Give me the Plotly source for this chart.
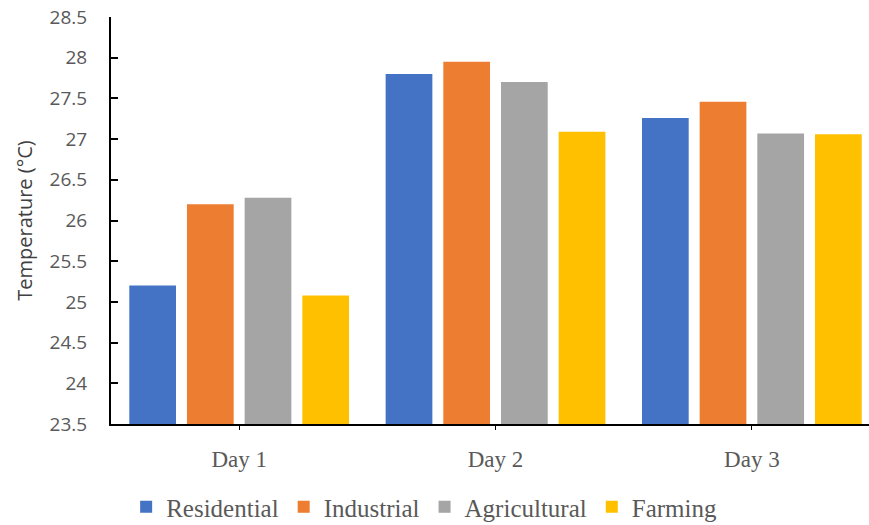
import plotly.graph_objects as go

# Daily mean temperature by land-use zone
days = ["Day 1", "Day 2", "Day 3"]
residential = [25.2, 27.8, 27.26]
industrial = [26.2, 27.95, 27.46]
agricultural = [26.28, 27.7, 27.07]
farming = [25.08, 27.09, 27.06]

series = [
    ("Residential", residential, "#4472C4"),
    ("Industrial", industrial, "#ED7D31"),
    ("Agricultural", agricultural, "#A5A5A5"),
    ("Farming", farming, "#FFC000"),
]

x_pos = list(range(len(days)))

fig = go.Figure()
for name, vals, color in series:
    fig.add_trace(go.Bar(
        x=x_pos, y=vals, name=name,
        marker=dict(color=color, line=dict(width=0)),
    ))

sans = "Open Sans, sans-serif"
serif = "Liberation Serif, serif"

fig.update_layout(
    width=869, height=525,
    margin=dict(l=111, r=0, t=17, b=101, autoexpand=False),
    paper_bgcolor="white", plot_bgcolor="white",
    font=dict(family=serif, size=21, color="#595959"),
    barmode="group", bargap=0.1, bargroupgap=0.19,
    showlegend=True,
    legend=dict(
        orientation="h",
        x=0.02, xanchor="left", y=-0.204, yanchor="middle",
        font=dict(family=serif, size=25, color="#595959",
                  weight="normal", style="normal"),
    ),
    xaxis=dict(
        range=[-0.5, 2.457],
        tickmode="array", tickvals=x_pos, ticktext=days,
        showline=True, linecolor="black", linewidth=2,
        ticks="outside", ticklen=4, tickcolor="black", tickwidth=1,
        ticklabelstandoff=9,
        showgrid=False, zeroline=False,
        tickfont=dict(family=serif, size=23, color="#595959"),
    ),
    yaxis=dict(
        range=[23.5, 28.5], dtick=0.5, tick0=23.5,
        showline=True, linecolor="black", linewidth=2,
        ticks="inside", ticklen=7, tickcolor="black", tickwidth=2,
        ticklabelstandoff=18,
        showgrid=False, zeroline=False,
        tickfont=dict(family=sans, size=19, color="#595959"),
        title=dict(text="Temperature (°C)", standoff=12,
                   font=dict(family=sans, size=20, color="#404040")),
    ),
)

fig.write_html("out.html")
